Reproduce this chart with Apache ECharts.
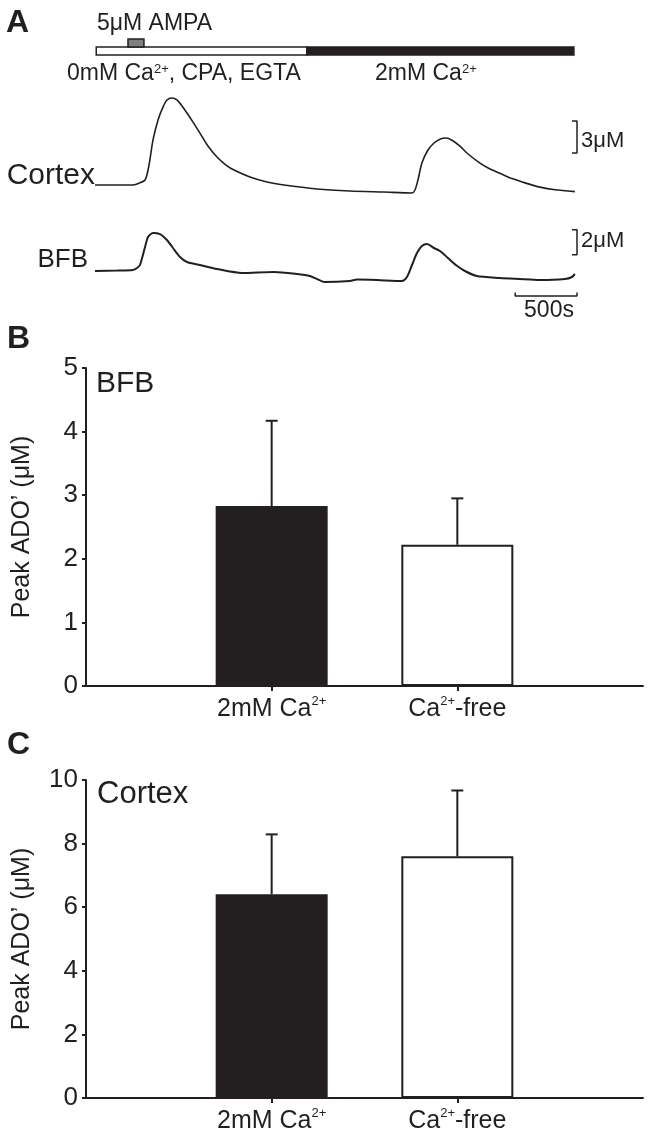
<!DOCTYPE html>
<html>
<head>
<meta charset="utf-8">
<script src="https://cdn.jsdelivr.net/npm/echarts@6/dist/echarts.min.js"></script>
<style>
  html, body { margin: 0; padding: 0; background: #fff; }
  #chart { width: 651px; height: 1139px; }
</style>
</head>
<body>
<div id="chart"></div>
<script>
// panel A: traces (time in s, value in uM above baseline)
const cortexTime = [0, 307, 340, 405, 437, 469, 510, 550, 582, 623, 663, 704, 744, 793, 849, 914, 987, 1060, 1125, 1254, 1392, 1529, 1796, 2063, 2338, 2565, 2589, 2613, 2645, 2694, 2743, 2791, 2840, 2888, 2953, 3009, 3115, 3196, 3285, 3374, 3479, 3600, 3722, 3883];
const cortexValue = [0, 0, 0.1, 0.47, 1.87, 4.2, 6.1, 7.3, 7.97, 8.15, 7.97, 7.4, 6.75, 5.9, 4.87, 3.65, 2.62, 1.87, 1.4, 0.75, 0.28, 0, -0.37, -0.56, -0.66, -0.75, -0.47, 0.47, 2.06, 3.28, 3.94, 4.3, 4.4, 4.2, 3.65, 3.0, 2.05, 1.5, 1.05, 0.6, 0.2, -0.2, -0.45, -0.62];
const bfbTime = [0, 178, 307, 340, 364, 405, 429, 469, 526, 582, 631, 688, 744, 849, 987, 1189, 1448, 1634, 1739, 1796, 1853, 2063, 2120, 2281, 2484, 2524, 2565, 2605, 2645, 2686, 2743, 2791, 2856, 2920, 2993, 3090, 3276, 3430, 3600, 3802, 3859, 3883];
const bfbValue = [0, 0.04, 0.08, 0.24, 0.48, 1.92, 2.72, 3.04, 2.95, 2.48, 1.84, 1.12, 0.72, 0.48, 0.16, -0.16, -0.08, -0.24, -0.4, -0.64, -0.88, -0.8, -0.68, -0.72, -0.8, -0.48, 0.48, 1.44, 2.0, 2.16, 1.84, 1.6, 1.04, 0.48, 0, -0.4, -0.56, -0.64, -0.72, -0.64, -0.48, -0.24];

// protocol bar: [start, end] in s
const lowCaPeriod = [10, 1715];
const highCaPeriod = [1715, 3875];
const ampaPeriod = [267, 396];

// scale bars
const timeScale = 500;      // s
const cortexScale = 3;      // uM
const bfbScale = 2;         // uM

// panels B and C
const categories = ['', '2mM Ca2+', 'Ca2+-free', ''];
const bfbMean = [2.83, 2.22];
const bfbSem = [1.34, 0.73];
const cortexMean = [6.41, 7.6];
const cortexSem = [1.88, 2.07];

const ink = '#231f20';
const font = 'Liberation Sans, Arial, sans-serif';
const tEnd = 3900;

const chart = echarts.init(document.getElementById('chart'), null, { renderer: 'canvas' });

function pairs(xs, ys) {
  return xs.map((x, i) => [x, ys[i]]);
}

function rectItem(fill, row) {
  return function (params, api) {
    const p0 = api.coord([api.value(0), row + 1]);
    const p1 = api.coord([api.value(1), row]);
    return {
      type: 'rect',
      shape: { x: p0[0], y: p0[1], width: p1[0] - p0[0], height: p1[1] - p0[1] },
      style: { fill: fill, stroke: ink, lineWidth: 1.5 }
    };
  };
}

function errorBar(params, api) {
  const x = api.value(0);
  const base = api.coord([x, api.value(1)]);
  const top = api.coord([x, api.value(1) + api.value(2)]);
  const half = 6;
  const st = { stroke: ink, lineWidth: 2 };
  return {
    type: 'group',
    children: [
      { type: 'line', shape: { x1: base[0], y1: base[1], x2: top[0], y2: top[1] }, style: st },
      { type: 'line', shape: { x1: top[0] - half, y1: top[1], x2: top[0] + half, y2: top[1] }, style: st }
    ]
  };
}

const supRich = {
  sup: { fontSize: 13, fontFamily: font, color: ink, verticalAlign: 'top', lineHeight: 12 }
};

function barData(means) {
  const fills = ['#231f20', '#ffffff'];
  return ['-'].concat(means.map((m, i) => ({
    value: m,
    itemStyle: { color: fills[i], borderColor: ink, borderWidth: i === 0 ? 0 : 2 }
  }))).concat(['-']);
}

function barXAxis(gridIndex) {
  return {
    type: 'category', gridIndex: gridIndex, data: categories, boundaryGap: false,
    axisLine: { lineStyle: { color: ink, width: 2 } },
    axisTick: { length: 5, lineStyle: { color: ink, width: 2 }, interval: (i) => i === 1 || i === 2 },
    axisLabel: {
      interval: (i) => i === 1 || i === 2, margin: 9,
      color: ink, fontSize: 25, fontFamily: font, lineHeight: 29,
      formatter: (v) => v.replace('Ca2+', 'Ca{sup|2+}'),
      rich: supRich
    },
    splitLine: { show: false }
  };
}

function barYAxis(gridIndex, max, step) {
  return {
    type: 'value', gridIndex: gridIndex, min: 0, max: max, interval: step,
    name: 'Peak ADO\u2019 (\u03bcM)', nameLocation: 'middle', nameGap: 51, nameRotate: 90,
    nameTextStyle: { color: ink, fontSize: 25, fontFamily: font },
    axisLine: { show: true, lineStyle: { color: ink, width: 2 } },
    axisTick: { show: true, length: 4, lineStyle: { color: ink, width: 2 } },
    axisLabel: { color: ink, fontSize: 26, fontFamily: font, margin: 8 },
    splitLine: { show: false }
  };
}

const hiddenX = (g) => ({ type: 'value', gridIndex: g, min: 0, max: tEnd, show: false });
const hiddenY = (g, mn, mx) => ({ type: 'value', gridIndex: g, min: mn, max: mx, show: false });

function traceLine(g, data, width) {
  return {
    type: 'line', xAxisIndex: g, yAxisIndex: g, data: data, showSymbol: false,
    smooth: 0.25, clip: false, silent: true,
    lineStyle: { color: ink, width: width }
  };
}

function scaleLine(g, pts) {
  return {
    type: 'line', xAxisIndex: g, yAxisIndex: g, data: pts, showSymbol: false,
    clip: false, silent: true, lineStyle: { color: ink, width: 1.5 }
  };
}

const tick = 40;
const cortexBracket = [[tEnd - tick, 3 + cortexScale], [tEnd, 3 + cortexScale], [tEnd, 3], [tEnd - tick, 3]];
const bfbBracket = [[tEnd - tick, 1.3 + bfbScale], [tEnd, 1.3 + bfbScale], [tEnd, 1.3], [tEnd - tick, 1.3]];
const timeBar = [[tEnd - timeScale, -1.72], [tEnd - timeScale, -2], [tEnd, -2], [tEnd, -1.72]];

function label(text, x, y, size, align, bold) {
  return {
    type: 'text', x: x, y: y, silent: true,
    style: {
      text: text, fill: ink, fontSize: size, fontFamily: font,
      fontWeight: bold ? 'bold' : 'normal', align: align || 'left', verticalAlign: 'middle',
      rich: { sup: { fontSize: 13, fontFamily: font, fill: ink, verticalAlign: 'top', lineHeight: 12 } }
    }
  };
}

const option = {
  backgroundColor: '#fff',
  animation: false,
  grid: [
    { left: 95, width: 482, top: 39, height: 16 },          // 0 protocol
    { left: 95, width: 482, top: 89, height: 106.67 },      // 1 cortex trace
    { left: 95, width: 482, top: 226, height: 75 },         // 2 BFB trace
    { left: 86, right: 8, top: 368, height: 318 },          // 3 panel B
    { left: 86, right: 8, top: 780, height: 318 }           // 4 panel C
  ],
  xAxis: [hiddenX(0), hiddenX(1), hiddenX(2), barXAxis(3), barXAxis(4)],
  yAxis: [hiddenY(0, 0, 2), hiddenY(1, -1, 9), hiddenY(2, -2.4, 3.6), barYAxis(3, 5, 1), barYAxis(4, 10, 2)],
  series: [
    { type: 'custom', xAxisIndex: 0, yAxisIndex: 0, renderItem: rectItem('#ffffff', 0), data: [lowCaPeriod], encode: { x: [0, 1] }, clip: false },
    { type: 'custom', xAxisIndex: 0, yAxisIndex: 0, renderItem: rectItem(ink, 0), data: [highCaPeriod], encode: { x: [0, 1] }, clip: false },
    { type: 'custom', xAxisIndex: 0, yAxisIndex: 0, renderItem: rectItem('#808080', 1), data: [ampaPeriod], encode: { x: [0, 1] }, clip: false },
    traceLine(1, pairs(cortexTime, cortexValue), 1.6),
    traceLine(2, pairs(bfbTime, bfbValue), 2),
    scaleLine(1, cortexBracket),
    scaleLine(2, bfbBracket),
    scaleLine(2, timeBar),
    { type: 'bar', xAxisIndex: 3, yAxisIndex: 3, data: barData(bfbMean), barWidth: 112 },
    { type: 'custom', xAxisIndex: 3, yAxisIndex: 3, renderItem: errorBar, z: 5,
      data: bfbMean.map((m, i) => [i + 1, m, bfbSem[i]]), encode: { x: 0, y: [1, 2] } },
    { type: 'bar', xAxisIndex: 4, yAxisIndex: 4, data: barData(cortexMean), barWidth: 112 },
    { type: 'custom', xAxisIndex: 4, yAxisIndex: 4, renderItem: errorBar, z: 5,
      data: cortexMean.map((m, i) => [i + 1, m, cortexSem[i]]), encode: { x: 0, y: [1, 2] } }
  ],
  graphic: [
    label('A', 6, 23, 32, 'left', true),
    label('B', 7, 339, 32, 'left', true),
    label('C', 7, 745, 32, 'left', true),
    label('5\u03bcM AMPA', 97, 24, 23),
    label('0mM Ca{sup|2+}, CPA, EGTA', 67, 74, 23),
    label('2mM Ca{sup|2+}', 375, 74, 23),
    label('Cortex', 95, 176, 30, 'right'),
    label('BFB', 88, 260, 26, 'right'),
    label('3\u03bcM', 581, 141, 22),
    label('2\u03bcM', 581, 241, 22),
    label('500s', 549, 311, 23, 'center'),
    label('BFB', 96, 384, 30),
    label('Cortex', 97, 794, 31)
  ]
};

chart.setOption(option);
</script>
</body>
</html>
